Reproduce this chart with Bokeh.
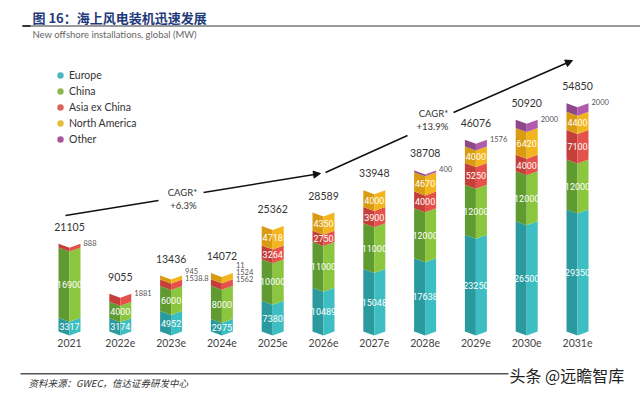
from bokeh.plotting import figure
from bokeh.models import (Range1d, Label, BoxAnnotation, Arrow, NormalHead,
                          Legend, LegendItem)
from bokeh.core.properties import value
from bokeh.embed import file_html
from bokeh.resources import INLINE

# ---------------- data ----------------
years = ["2021", "2022e", "2023e", "2024e", "2025e", "2026e", "2027e",
         "2028e", "2029e", "2030e", "2031e"]
europe = [3317, 3174, 4952, 2975, 7380, 10489, 15048, 17638, 23250, 26500, 29350]
china = [16900, 4000, 6000, 8000, 10000, 11000, 11000, 12000, 12000, 12000, 12000]
asia_ex_china = [888, 1881, 1538.8, 1562, 3264, 2750, 3900, 4000, 5250, 4000, 7100]
north_america = [0, 0, 945, 1524, 4718, 4350, 4000, 4670, 4000, 6420, 4400]
other = [0, 0, 0, 11, 0, 0, 0, 400, 1576, 2000, 2000]
totals = [21105, 9055, 13436, 14072, 25362, 28589, 33948, 38708, 46076, 50920, 54850]
series_names = ["Europe", "China", "Asia ex China", "North America", "Other"]
cagr_labels = [("CAGR*", "+6.3%"), ("CAGR*", "+13.9%")]

# ---------------- styling ----------------
light = ["#3DBEC2", "#8CC63F", "#E5524B", "#F2B51D", "#B25AAB"]
dark = ["#2B9A9E", "#5F9B30", "#C43F3A", "#D99B12", "#8C4889"]
legend_col = ["#4BB8C0", "#8DB850", "#D9645A", "#E3BE3A", "#A8549A"]

W, H = 640, 397
K = 0.00416               # px per MW
base_px = H - 331         # baseline from bottom of canvas
x0_px, dx_px = 69, 50.8
y_start = -base_px / K
y_end = (H - base_px) / K
x_start = -x0_px / dx_px
x_end = (W - x0_px) / dx_px

p = figure(width=W, height=H, output_backend="svg", toolbar_location=None,
           x_range=Range1d(x_start, x_end), y_range=Range1d(y_start, y_end),
           min_border=0, min_border_left=0, min_border_right=0,
           min_border_top=0, min_border_bottom=0)
p.axis.visible = False
p.grid.visible = False
p.outline_line_color = None
p.background_fill_color = "white"
p.border_fill_color = "white"

series = [europe, china, asia_ex_china, north_america, other]
hw = 11 / dx_px           # half bar width in data units
notch = 4 / K             # chevron depth in data units
mw_per_px = 1 / K

lxs, lys, lcol, rxs, rys, rcol = [], [], [], [], [], []
in_x, in_y, in_t = [], [], []
out_x, out_y, out_t = [], [], []


def fmt(v):
    return str(int(v)) if float(v).is_integer() else str(v)


for i in range(len(years)):
    cum = 0
    outside = []
    for s, vals in enumerate(series):
        v = vals[i]
        if v <= 0:
            continue
        y0, y1 = cum, cum + v
        lxs.append([i - hw, i, i, i - hw])
        lys.append([y0, y0 - notch, y1 - notch, y1])
        lcol.append(dark[s])
        rxs.append([i, i + hw, i + hw, i])
        rys.append([y0 - notch, y0, y1, y1 - notch])
        rcol.append(light[s])
        if v >= 2500:
            in_x.append(i)
            in_y.append((y0 + y1) / 2 - notch / 2)
            in_t.append(fmt(v))
        else:
            outside.append(v)
        cum = y1
    outside = outside[::-1]
    n = len(outside)
    for k, v in enumerate(outside):
        off_px = -1 + (k - (n - 1) / 2) * 7
        out_x.append(i + hw + 3 / dx_px)
        out_y.append(cum - off_px * mw_per_px)
        out_t.append(fmt(v))

p.patches(xs=lxs, ys=lys, fill_color=lcol, line_color=None)
p.patches(xs=rxs, ys=rys, fill_color=rcol, line_color=None)

p.text(x=in_x, y=in_y, text=in_t, text_align="center", text_baseline="middle",
       text_font=value("Roboto"), text_font_size="9px", text_color="white")
p.text(x=out_x, y=out_y, text=out_t, text_align="left", text_baseline="middle",
       text_font=value("Lato"), text_font_size="7.5px", text_color="#555555")

idx = list(range(len(years)))
p.text(x=idx, y=[t + 17 * mw_per_px for t in totals], text=[str(t) for t in totals],
       text_align="center", text_baseline="middle", text_font=value("Lato"),
       text_font_size="10.5px", text_color="#333333")
p.text(x=idx, y=[-11 * mw_per_px] * len(idx), text=years,
       text_align="center", text_baseline="middle", text_font=value("Lato"),
       text_font_size="10.5px", text_color="#444444")

# ---------------- legend ----------------
items = []
nan = float("nan")
for s, name in enumerate(series_names):
    r = p.scatter(x=[nan], y=[nan], marker="circle", size=7,
                  fill_color=legend_col[s], line_color=None)
    items.append(LegendItem(label=name, renderers=[r]))
leg = Legend(items=items, location=(52, H - 147), glyph_width=16, glyph_height=16,
             label_height=16, spacing=0, padding=0, margin=0, label_standoff=1,
             border_line_color=None, background_fill_alpha=0,
             label_text_font="Lato", label_text_font_size="10.5px",
             label_text_color="#333333")
p.add_layout(leg, "center")


# ---------------- helpers in screen units ----------------
def sx(X):
    return X


def sy(Y):
    return H - Y


def lab(text, X, Y, size, color, font="Lato", align="left", style="normal"):
    p.add_layout(Label(x=sx(X), y=sy(Y), x_units="screen", y_units="screen",
                       text=text, text_font=font, text_font_size=size,
                       text_color=color, text_align=align,
                       text_baseline="middle", text_font_style=style))


def box(X0, X1, Y0, Y1, color):
    p.add_layout(BoxAnnotation(left=sx(X0), right=sx(X1), top=sy(Y0), bottom=sy(Y1),
                               left_units="screen", right_units="screen",
                               top_units="screen", bottom_units="screen",
                               fill_color=color, fill_alpha=1, line_color=None))


# title
lab("图 16：海上风电装机迅速发展", 32, 17, "13px", "#1F3A7A",
    font="Noto Sans CJK SC", style="bold")
box(22, 640, 24.5, 26.5, "#9A9A9A")
box(22, 30, 24.5, 26.5, "#333333")
lab("New offshore installations, global (MW)", 32, 34, "9.5px", "#666666")


# CAGR arrows
def seg(X0, Y0, X1, Y1, head):
    p.add_layout(Arrow(x_start=sx(X0), y_start=sy(Y0), x_end=sx(X1), y_end=sy(Y1),
                       start_units="screen", end_units="screen",
                       line_color="#111111", line_width=1.5,
                       end=NormalHead(size=7, fill_color="#111111",
                                      line_color="#111111") if head else None))


seg(65, 215, 158, 200, False)
seg(203, 192, 320, 173, True)
seg(325, 172, 407, 135, False)
seg(453, 112, 572, 60, True)
lab(cagr_labels[0][0], 182, 192, "9.5px", "#333333", align="center")
lab(cagr_labels[0][1], 183, 205, "9.5px", "#333333", align="center")
lab(cagr_labels[1][0], 433, 113, "9.5px", "#333333", align="center")
lab(cagr_labels[1][1], 432, 126, "9.5px", "#333333", align="center")

# footer
box(20, 508, 372.5, 374, "#555555")
lab("资料来源：GWEC，信达证券研发中心", 28, 382, "9.5px", "#333333",
    font="Noto Sans CJK SC", style="italic")
lab("头条 @远瞻智库", 509, 374, "16px", "#222222", font="Noto Sans CJK SC")

open("out.html", "w").write(file_html(p, INLINE))
